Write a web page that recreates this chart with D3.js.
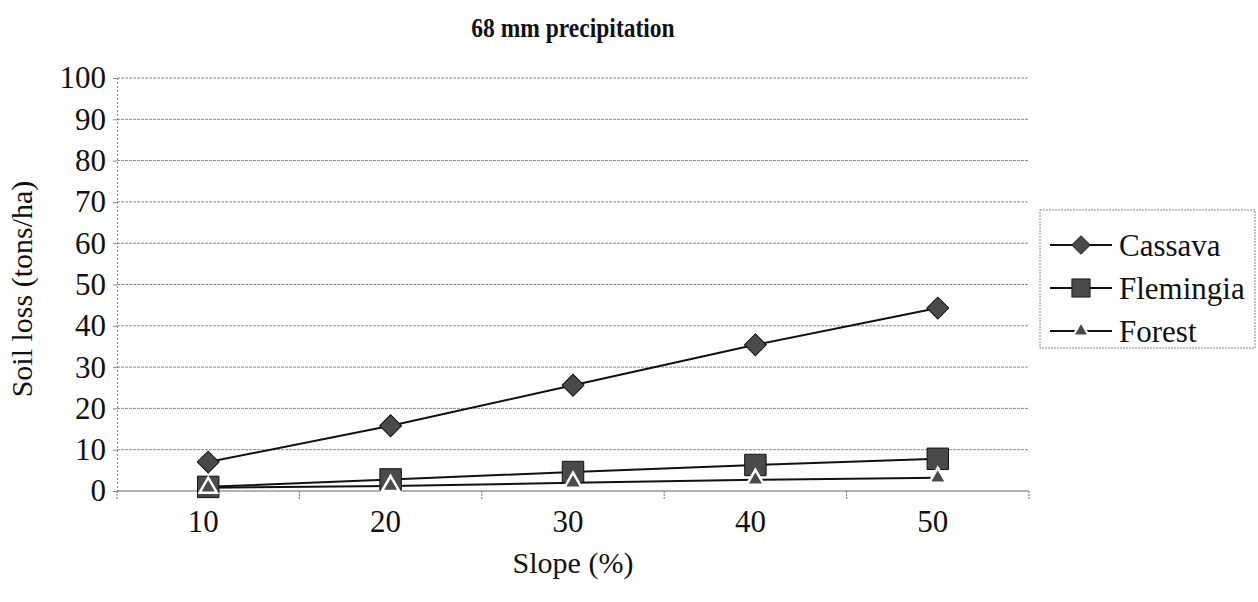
<!DOCTYPE html>
<html>
<head>
<meta charset="utf-8">
<script src="https://cdn.jsdelivr.net/npm/d3@7"></script>
<style>
  html, body { margin: 0; padding: 0; background: #fff; }
  svg { display: block; font-family: "Liberation Serif", "DejaVu Serif", serif; }
</style>
</head>
<body>
<svg id="chart" width="1258" height="602"></svg>
<script>
// Soil loss by slope under 68 mm precipitation
const slopes = [10, 20, 30, 40, 50];
const cassava = [7.0, 15.8, 25.6, 35.4, 44.3];
const flemingia = [1.0, 2.8, 4.6, 6.3, 7.8];
const forest = [0.8, 1.2, 2.0, 2.7, 3.2];
const seriesNames = ["Cassava", "Flemingia", "Forest"];
const yTicks = [0, 10, 20, 30, 40, 50, 60, 70, 80, 90, 100];

const series = [
  { name: seriesNames[0], values: cassava, shape: "diamond" },
  { name: seriesNames[1], values: flemingia, shape: "square" },
  { name: seriesNames[2], values: forest, shape: "triangle" }
];

const svg = d3.select("#chart");
const plot = { left: 117, right: 1029, top: 78, bottom: 491 };
const labelSize = 31;
const serif = "Liberation Serif, DejaVu Serif, serif";

const x = d3.scaleBand().domain(slopes).range([plot.left, plot.right]);
const y = d3.scaleLinear().domain([0, 100]).range([plot.bottom, plot.top]);

const markFill = "#4a4a4a";

// horizontal gridlines
svg.append("g")
  .selectAll("line")
  .data(yTicks.filter(d => d > 0))
  .join("line")
  .attr("x1", plot.left).attr("x2", plot.right)
  .attr("y1", d => y(d)).attr("y2", d => y(d))
  .attr("stroke", "#8a8a8a").attr("stroke-width", 1)
  .attr("stroke-dasharray", "3,1");

// y axis
const yAxis = svg.append("g")
  .attr("transform", `translate(${plot.left},0)`)
  .call(d3.axisLeft(y).tickValues(yTicks).tickSize(4).tickPadding(7))
  .attr("font-family", serif);
yAxis.select(".domain").attr("stroke", "#888").attr("stroke-dasharray", "2,2");
yAxis.selectAll(".tick line").attr("stroke", "#888");
yAxis.selectAll("text")
  .attr("font-family", serif)
  .attr("font-size", labelSize).attr("fill", "#111");

// x axis: tick marks on category boundaries, labels at centres
const xg = svg.append("g").attr("transform", `translate(0,${plot.bottom})`);
xg.append("line")
  .attr("x1", plot.left).attr("x2", plot.right)
  .attr("stroke", "#666").attr("stroke-width", 1.2);
const bounds = slopes.map(s => x(s)).concat([plot.right]);
xg.selectAll(".sep")
  .data(bounds)
  .join("line")
  .attr("class", "sep")
  .attr("x1", d => d).attr("x2", d => d)
  .attr("y1", 0).attr("y2", 8)
  .attr("stroke", "#777").attr("stroke-dasharray", "2,1");
xg.selectAll(".lbl")
  .data(slopes)
  .join("text")
  .attr("class", "lbl")
  .attr("x", d => x(d) + x.bandwidth() / 2 - 5)
  .attr("y", 41)
  .attr("text-anchor", "middle")
  .attr("font-family", serif)
  .attr("font-size", labelSize).attr("fill", "#111")
  .text(d => d);

// axis titles
svg.append("text")
  .attr("x", (plot.left + plot.right) / 2).attr("y", 573)
  .attr("text-anchor", "middle").attr("font-size", 30).attr("fill", "#111")
  .attr("font-family", serif)
  .text("Slope (%)");
svg.append("text")
  .attr("transform", `translate(32,289) rotate(-90)`)
  .attr("text-anchor", "middle").attr("font-size", 30).attr("fill", "#111")
  .attr("font-family", serif)
  .text("Soil loss (tons/ha)");

// chart title
svg.append("text")
  .attr("transform", "translate(573,37) scale(0.84,1)")
  .attr("text-anchor", "middle").attr("font-size", 28).attr("font-weight", "bold")
  .attr("font-family", serif)
  .attr("fill", "#111")
  .text("68 mm precipitation");

// marker symbols
const symbolFor = {
  diamond: d3.symbol().type(d3.symbolSquare).size(240),
  square: d3.symbol().type(d3.symbolSquare).size(460),
  triangle: d3.symbol().type(d3.symbolTriangle).size(130)
};
function drawMarker(g, shape, cx, cy, scale = 1) {
  const p = g.append("path")
    .attr("d", symbolFor[shape]())
    .attr("fill", markFill)
    .attr("stroke", shape === "triangle" ? "#fff" : "#111")
    .attr("stroke-width", shape === "triangle" ? 2.5 : 1);
  let t = `translate(${cx},${cy})`;
  if (shape === "diamond") t += " rotate(45)";
  if (scale !== 1) t += ` scale(${scale})`;
  p.attr("transform", t);
}

const line = d3.line()
  .x((d, i) => x(slopes[i]) + x.bandwidth() / 2)
  .y(d => y(d));

// series lines first, then markers on top
series.forEach(s => {
  svg.append("path")
    .attr("d", line(s.values))
    .attr("fill", "none").attr("stroke", "#111").attr("stroke-width", 2);
});
series.forEach(s => {
  const g = svg.append("g");
  s.values.forEach((v, i) => {
    drawMarker(g, s.shape, x(slopes[i]) + x.bandwidth() / 2, y(v));
  });
});

// legend
const legend = svg.append("g");
legend.append("rect")
  .attr("x", 1040).attr("y", 210).attr("width", 215).attr("height", 138)
  .attr("fill", "#fff").attr("stroke", "#888").attr("stroke-dasharray", "2,1");
series.forEach((s, i) => {
  const cy = 245 + i * 43;
  legend.append("line")
    .attr("x1", 1050).attr("x2", 1112).attr("y1", cy).attr("y2", cy)
    .attr("stroke", "#111").attr("stroke-width", 2);
  drawMarker(legend, s.shape, 1081, cy, s.shape === "triangle" ? 0.9 : 0.85);
  legend.append("text")
    .attr("x", 1119).attr("y", cy + 11)
    .attr("font-size", 31).attr("fill", "#111")
    .attr("font-family", serif)
    .text(s.name);
});
</script>
</body>
</html>
